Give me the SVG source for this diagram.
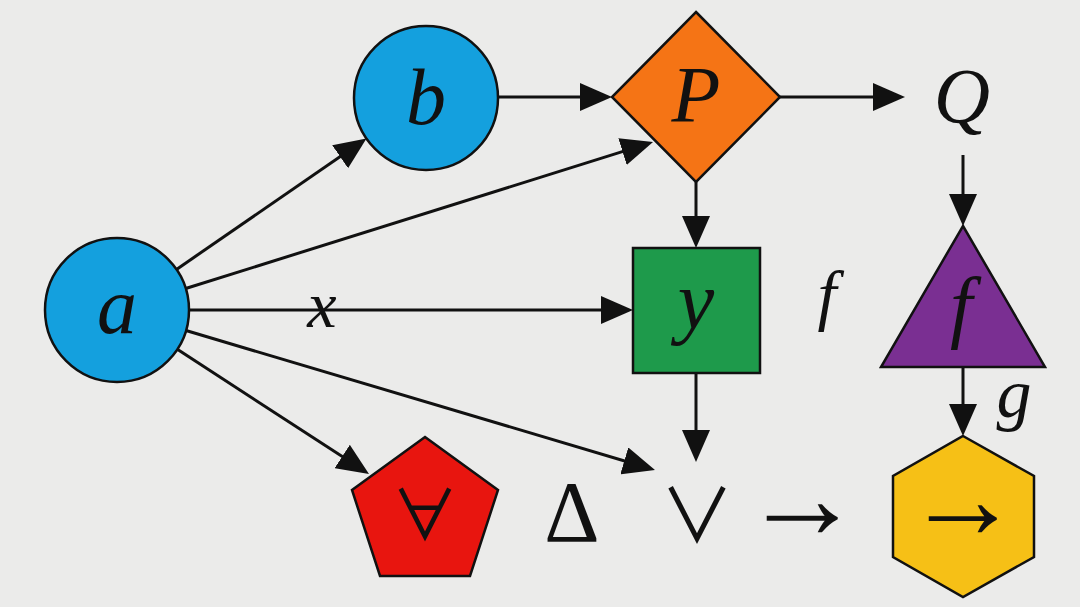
<svg xmlns="http://www.w3.org/2000/svg" width="1080" height="607" viewBox="0 0 1080 607">
<style>
.n{stroke:#111;stroke-width:2.5}
.t{font-family:"Liberation Serif","Times New Roman",serif;font-style:italic;fill:#111;text-anchor:middle}
.s{font-family:"Liberation Serif","DejaVu Serif",serif;fill:#111;text-anchor:middle}
.c{font-family:"Noto Sans CJK JP","Noto Sans CJK SC",sans-serif;fill:#111;text-anchor:middle}
.e{stroke:#111;stroke-width:3;fill:none;marker-end:url(#ah)}
</style>
<defs>
<marker id="ah" viewBox="0 0 32 28" refX="24" refY="14" markerWidth="32" markerHeight="28" markerUnits="userSpaceOnUse" orient="auto">
<path d="M0,0 L32,14 L0,28 Z" fill="#111"/>
</marker>
</defs>
<rect width="1080" height="607" fill="#ebebea"/>
<g id="edges">
<line class="e" x1="176.5" y1="269.4" x2="359.9" y2="143.1"/>
<line class="e" x1="185.7" y1="288.5" x2="645.4" y2="144.4"/>
<line class="e" x1="189" y1="310" x2="625" y2="310"/>
<line class="e" x1="186" y1="330.5" x2="647.3" y2="467.7"/>
<line class="e" x1="177.3" y1="349.3" x2="362.3" y2="469.6"/>
<line class="e" x1="498" y1="97" x2="604" y2="97"/>
<line class="e" x1="780" y1="97" x2="897" y2="97"/>
<line class="e" x1="696" y1="182" x2="696" y2="240"/>
<line class="e" x1="696" y1="373" x2="696" y2="454"/>
<line class="e" x1="963" y1="155" x2="963" y2="218"/>
<line class="e" x1="963" y1="367" x2="963" y2="428"/>
<text class="t" x="322" y="327" font-size="66">x</text>
<text class="t" x="1014" y="417" font-size="70">g</text>
</g>
<g id="node-a">
<circle class="n" cx="117" cy="310" r="72" fill="#14a0de"/>
<text class="t" x="117" y="333" font-size="80">a</text>
</g>
<g id="node-b">
<circle class="n" cx="426" cy="98" r="72" fill="#14a0de"/>
<text class="t" x="426" y="124" font-size="80">b</text>
</g>
<g id="node-P">
<polygon class="n" points="696,12 780,97 696,182 612,97" fill="#f57415"/>
<text class="t" x="696" y="122" font-size="80">P</text>
</g>
<g id="node-Q">
<text class="t" x="962" y="122" font-size="78">Q</text>
</g>
<g id="node-y">
<rect class="n" x="633" y="248" width="127" height="125" fill="#1e9a4b"/>
<text class="t" x="696" y="328" font-size="82">y</text>
</g>
<g id="node-f">
<text class="t" x="827" y="318" font-size="68">f</text>
</g>
<g id="node-tri">
<polygon class="n" points="963,226 1045,367 881,367" fill="#7a2f92"/>
<text class="t" x="961" y="333" font-size="80">f</text>
</g>
<g id="node-hex">
<polygon class="n" points="963,436 1034,476 1034,557 963,597 893,557 893,476" fill="#f6c016"/>
<text class="s" x="963" y="538" font-size="115">→</text>
</g>
<g id="node-pent">
<polygon class="n" points="425,437 498,490 470,576 380,576 352,490" fill="#e8150f"/>
<text class="c" x="425" y="540" font-size="68">∀</text>
</g>
<g id="node-delta">
<text class="s" x="572" y="541" font-size="86">Δ</text>
</g>
<g id="node-or">
<text class="c" x="697" y="542" font-size="74">∨</text>
</g>
<g id="node-arrow">
<text class="s" x="802" y="538" font-size="120">→</text>
</g>
</svg>
